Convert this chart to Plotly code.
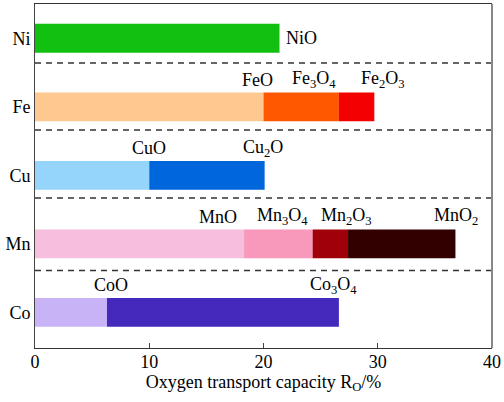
import plotly.graph_objects as go

# categories, bottom to top
metals = ["Co", "Mn", "Cu", "Fe", "Ni"]
# oxide labels per metal (in order of increasing capacity)
oxides = {
    "Ni": ["NiO"],
    "Fe": ["FeO", "Fe<sub>3</sub>O<sub>4</sub>", "Fe<sub>2</sub>O<sub>3</sub>"],
    "Cu": ["CuO", "Cu<sub>2</sub>O"],
    "Mn": ["MnO", "Mn<sub>3</sub>O<sub>4</sub>", "Mn<sub>2</sub>O<sub>3</sub>", "MnO<sub>2</sub>"],
    "Co": ["CoO", "Co<sub>3</sub>O<sub>4</sub>"],
}
# cumulative oxygen transport capacity R_O (%) at the end of each segment
ni_vals = [21.4]
fe_vals = [20.0, 26.6, 29.7]
cu_vals = [10.0, 20.1]
mn_vals = [18.3, 24.3, 27.4, 36.8]
co_vals = [6.3, 26.6]
values = {"Ni": ni_vals, "Fe": fe_vals, "Cu": cu_vals, "Mn": mn_vals, "Co": co_vals}

colors = {
    "Ni": ["#12C012"],
    "Fe": ["#FDC990", "#FF5800", "#F50000"],
    "Cu": ["#95D4FB", "#0066DC"],
    "Mn": ["#F8BEDE", "#F898BA", "#A00008", "#330000"],
    "Co": ["#C9B3F7", "#4529BD"],
}
# label offsets (px) relative to segment end
label_xshift = {
    "Fe": [-6, -25, 9],
    "Cu": [0, -2],
    "Mn": [-26, -30, -2, 1],
    "Co": [4, -5],
}

FONT = "Liberation Serif"
fig = go.Figure()
annotations = []
for m in metals:
    vals = values[m]
    prev = 0.0
    for i, v in enumerate(vals):
        fig.add_trace(go.Bar(
            y=[m], x=[v - prev], base=[prev], orientation="h",
            marker=dict(color=colors[m][i], line=dict(width=0)),
            width=0.42, showlegend=False, hoverinfo="skip",
        ))
        if m == "Ni":
            annotations.append(dict(x=v, y=m, text=oxides[m][i], showarrow=False,
                                    xanchor="left", yanchor="middle", xshift=4,
                                    font=dict(family=FONT, size=18, color="black")))
        else:
            annotations.append(dict(x=v, y=m, text=oxides[m][i], showarrow=False,
                                    xanchor="center", yanchor="middle",
                                    xshift=label_xshift[m][i], yshift=27,
                                    font=dict(family=FONT, size=18, color="black")))
        prev = v

shapes = []
for yb in [0.61, 1.67, 2.66, 3.64]:
    shapes.append(dict(type="line", xref="paper", x0=0, x1=1, yref="y", y0=yb, y1=yb,
                       line=dict(color="#333333", width=1.5, dash="6px,5px")))
shapes.append(dict(type="line", xref="paper", x0=1, x1=1, yref="paper", y0=0, y1=1,
                   line=dict(color="#888888", width=2)))

fig.update_layout(
    width=504, height=402,
    margin=dict(l=35, r=10, t=3, b=54),
    plot_bgcolor="white", paper_bgcolor="white",
    barmode="overlay",
    annotations=annotations, shapes=shapes,
    font=dict(family=FONT, size=18, color="black"),
    xaxis=dict(range=[0, 40], dtick=10, ticks="inside", ticklen=5, tickcolor="#444",
               showline=True, linecolor="#333", linewidth=1, mirror=True,
               showgrid=False, zeroline=False, ticklabelstandoff=-3,
               title=dict(text="Oxygen transport capacity R<sub>O</sub>/%", standoff=3,
                          font=dict(family=FONT, size=18, color="black")),
               tickfont=dict(family=FONT, size=18, color="black")),
    yaxis=dict(categoryorder="array", categoryarray=metals, range=[-0.52, 4.5],
               ticks="", showline=True, linecolor="#444", linewidth=1,
               showgrid=False, zeroline=False,
               tickfont=dict(family=FONT, size=18, color="black")),
)
fig.write_html("out.html", config={"displayModeBar": False},
               post_script="document.body.style.margin='0';document.body.style.overflow='hidden';")
